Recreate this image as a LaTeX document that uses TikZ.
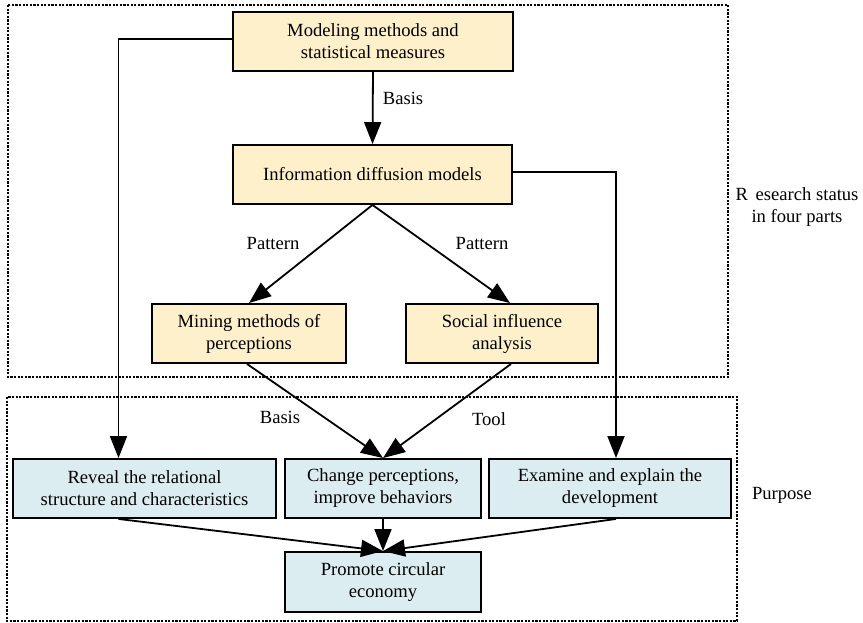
\documentclass[tikz,border=0pt]{standalone}
\usepackage{fontspec}
\setmainfont{Liberation Serif}
\usetikzlibrary{arrows.meta}
\definecolor{boxyellow}{HTML}{FDF0CB}
\definecolor{boxblue}{HTML}{DCEDF2}
\tikzset{
  box/.style={draw=black, line width=1.9pt, align=center, inner sep=0pt,
    minimum height=59pt, font=\fontsize{18.6}{22}\selectfont},
  ybox/.style={box, fill=boxyellow},
  bbox/.style={box, fill=boxblue},
  arr/.style={line width=1.8pt, -{Triangle[length=22pt,width=17pt]}},
  frame/.style={line width=1.2pt, dash pattern=on 2.2pt off 1.4pt},
  lbl/.style={font=\fontsize{18.6}{22}\selectfont, align=center, inner sep=0pt}
}
\begin{document}
\begin{tikzpicture}[x=1pt, y=-1pt]
  \useasboundingbox (0,0) rectangle (863,623);
  % group frames
  \draw[frame] (8,5) rectangle (728,377);
  \draw[frame] (7,397) rectangle (737,621);
  \node[lbl] (research) at (797,207) {R\, esearch status\\in four parts};
  \node[lbl] (purpose) at (782,495) {Purpose};

  % research status boxes
  \node[ybox, minimum width=280pt] (top) at (373,41.5) {Modeling methods and\\statistical measures};
  \node[ybox, minimum width=279pt] (info) at (372.5,174.5) {Information diffusion models};
  \node[ybox, minimum width=194pt] (mining) at (249,333.5) {Mining methods of\\perceptions};
  \node[ybox, minimum width=192pt] (social) at (502,333.5) {Social influence\\analysis};

  % purpose boxes
  \node[bbox, minimum width=263pt] (reveal) at (144.5,488.5) {Reveal the relational\\structure and characteristics};
  \node[bbox, minimum width=196pt] (change) at (383,488.5) {Change perceptions,\\improve behaviors};
  \node[bbox, minimum width=242pt] (examine) at (610,488.5) {Examine and explain the\\development};
  \node[bbox, minimum width=196pt, minimum height=60pt] (promote) at (383,582) {Promote circular\\economy};

  % connectors
  \draw[arr] (top.south) -- (info.north);
  \node[lbl] (basisA) at (403,98) {Basis};
  \draw[arr] ([yshift=2.5pt]top.west) -| ([xshift=-26pt]reveal.north);
  \draw[arr] ([yshift=2.5pt]info.east) -| ([xshift=6pt]examine.north);
  \draw[arr] (info.south) -- (mining.north);
  \draw[arr] (info.south) -- ([xshift=8pt]social.north);
  \node[lbl] (patA) at (273,244) {Pattern};
  \node[lbl] (patB) at (482,244) {Pattern};
  \draw[arr] ([xshift=-2pt]mining.south) -- (change.north);
  \draw[arr] ([xshift=9pt]social.south) -- (change.north);
  \node[lbl] (basisB) at (280,417) {Basis};
  \node[lbl] (tool) at (489,419) {Tool};
  \draw[arr] ([xshift=-26pt]reveal.south) -- (promote.north);
  \draw[arr] (change.south) -- (promote.north);
  \draw[arr] ([xshift=6pt]examine.south) -- (promote.north);
\end{tikzpicture}
\end{document}
